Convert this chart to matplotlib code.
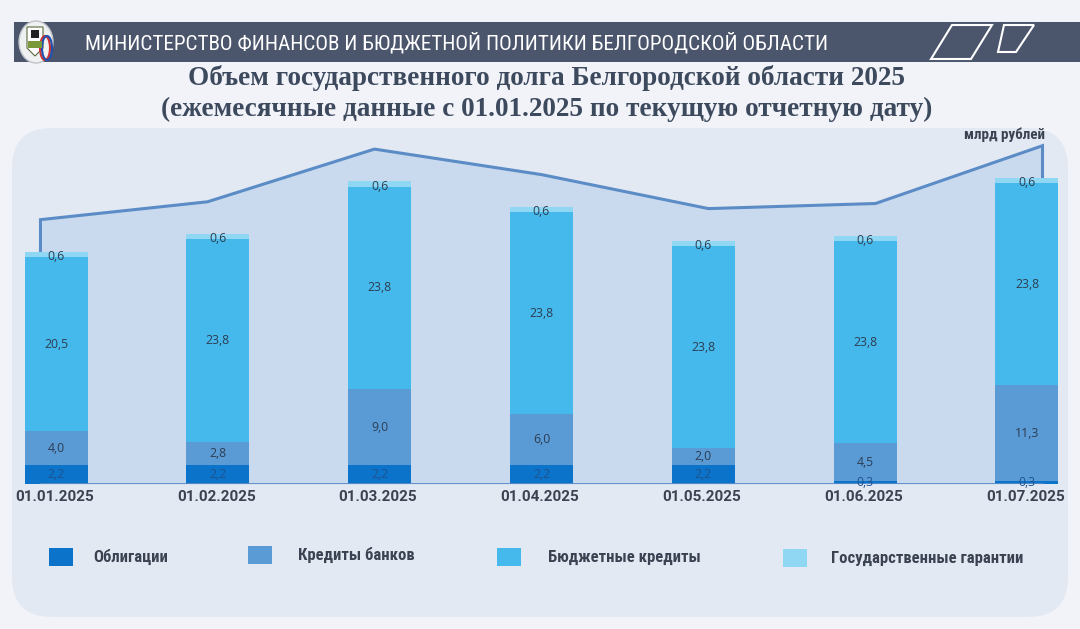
import matplotlib
matplotlib.use("Agg")
import matplotlib.pyplot as plt
from matplotlib import font_manager
from matplotlib.patches import FancyBboxPatch, Polygon, Rectangle, Ellipse
import numpy as np

# ---- data ----
dates = ["01.01.2025", "01.02.2025", "01.03.2025", "01.04.2025",
         "01.05.2025", "01.06.2025", "01.07.2025"]
series_names = ["Облигации", "Кредиты банков", "Бюджетные кредиты",
                "Государственные гарантии"]
bonds = [2.2, 2.2, 2.2, 2.2, 2.2, 0.3, 0.3]
bank_loans = [4.0, 2.8, 9.0, 6.0, 2.0, 4.5, 11.3]
budget_loans = [20.5, 23.8, 23.8, 23.8, 23.8, 23.8, 23.8]
guarantees = [0.6, 0.6, 0.6, 0.6, 0.6, 0.6, 0.6]

header_text = "МИНИСТЕРСТВО ФИНАНСОВ И БЮДЖЕТНОЙ ПОЛИТИКИ БЕЛГОРОДСКОЙ ОБЛАСТИ"
title_1 = "Объем государственного долга Белгородской области 2025"
title_2 = "(ежемесячные данные с 01.01.2025 по текущую отчетную дату)"
unit_text = "млрд рублей"

colors = ["#0b73c9", "#5b9bd5", "#45b9eb", "#8fd7f3"]

# pick a condensed font if one is installed
_fonts = font_manager.fontManager.ttflist
_names = {f.name for f in _fonts}
narrow_kw = {}
for cand in ["Liberation Sans Narrow", "Roboto Condensed", "Open Sans Condensed",
             "Noto Sans Condensed", "DejaVu Sans Condensed"]:
    if cand in _names:
        narrow_kw = {"family": [cand, "DejaVu Sans"]}
        break
if not narrow_kw:
    if any(f.name == "DejaVu Sans" and "condensed" in str(f.stretch) for f in _fonts):
        narrow_kw = {"family": ["DejaVu Sans"], "fontstretch": "condensed"}
    else:
        narrow_kw = {"family": ["Roboto", "DejaVu Sans"]}

W, H = 1080, 629
fig = plt.figure(figsize=(W / 100, H / 100), dpi=100)
fig.patch.set_facecolor("#f1f3f9")

bg = fig.add_axes([0, 0, 1, 1])
bg.set_xlim(0, W)
bg.set_ylim(H, 0)
bg.axis("off")

# header banner
bg.add_patch(Rectangle((14, 22), W - 14, 40, facecolor="#4b566d", edgecolor="none", zorder=1))
bg.add_patch(Ellipse((36, 42), 34, 42, facecolor="#eef0f2", edgecolor="#c0c4c8", zorder=2))
bg.add_patch(Polygon([(27, 27), (43, 27), (43, 48), (35, 56), (27, 48)], closed=True,
                     facecolor="#ffffff", edgecolor="#5a6a3a", lw=0.8, zorder=3))
bg.add_patch(Rectangle((28, 41), 14, 7, facecolor="#7a9a3a", edgecolor="none", zorder=4))
bg.add_patch(Rectangle((31, 30), 8, 8, facecolor="#222222", edgecolor="none", zorder=4))
bg.add_patch(Ellipse((45, 48), 10, 24, facecolor="none", edgecolor="#d03030", lw=1.5, zorder=3))
bg.add_patch(Ellipse((47, 48), 10, 24, facecolor="none", edgecolor="#2050b0", lw=1.5, zorder=3))
bg.text(85, 43, header_text, color="white", fontsize=15.2, va="center", ha="left",
        zorder=5, **narrow_kw)
bg.add_patch(Polygon([(952, 25), (992, 25), (971, 59), (931, 59)], closed=True,
                     facecolor="none", edgecolor="white", lw=1.5, zorder=5))
bg.add_patch(Polygon([(1004, 25), (1034, 25), (1016, 52), (998, 52)], closed=True,
                     facecolor="none", edgecolor="white", lw=1.5, zorder=5))

# title
bg.text(547, 78, title_1, color="#3d4a5e", fontsize=19.6, family="Liberation Serif",
        weight="bold", ha="center", va="center")
bg.text(547, 109, title_2, color="#3d4a5e", fontsize=19.6, family="Liberation Serif",
        weight="bold", ha="center", va="center")

# panel
bg.add_patch(FancyBboxPatch((12 + 40, 128 + 40), 1056 - 80, 489 - 80,
                            boxstyle="round,pad=40", facecolor="#e3e9f3",
                            edgecolor="none", zorder=1))

# legend
leg_sq_x = [49, 248, 497, 783]
leg_tx_x = [93, 298, 548, 831]
leg_y = [557, 555, 557, 558]
for i, name in enumerate(series_names):
    bg.add_patch(Rectangle((leg_sq_x[i], leg_y[i] - 9), 24, 18, facecolor=colors[i],
                           edgecolor="none", zorder=3))
    bg.text(leg_tx_x[i], leg_y[i], name, color="#3b4352", fontsize=12,
            weight="bold", ha="left", va="center", zorder=3, **narrow_kw)

# ---- data axes ----
px_per_x = 161.83
x_center0 = 56
baseline = 484
px_per_y = 8.5
top_px = 128
ax = fig.add_axes([0, (H - baseline) / H, 1, (baseline - top_px) / H])
ax.set_xlim(-x_center0 / px_per_x, (W - x_center0) / px_per_x)
ax.set_ylim(0, (baseline - top_px) / px_per_y)
ax.axis("off")
ax.patch.set_alpha(0)

x = np.arange(len(dates))
stack = np.array([bonds, bank_loans, budget_loans, guarantees])
totals = stack.sum(axis=0)

offset = 3.8
lx = 3 + (x - 3) * 1.032
ly = totals + offset
ax.fill_between(lx, 0, ly, color="#c9d9ee", zorder=1, lw=0)
ax.plot(np.r_[lx[0], lx, lx[-1]], np.r_[0, ly, 0], color="#5b8cc6", lw=2.2, zorder=2,
        solid_joinstyle="miter")

bar_w = 63 / px_per_x
bottom = np.zeros(len(dates))
for k in range(4):
    ax.bar(x, stack[k], bar_w, bottom=bottom, color=colors[k], zorder=3, lw=0)
    for i in range(len(dates)):
        v = stack[k][i]
        yc = bottom[i] + v / 2
        if k == 3:
            yc = bottom[i] + 0.05
        lbl = f"{v:.1f}".replace(".", ",")
        col = "#1f5390" if k == 0 else "#2d3d52"
        ax.text(x[i], yc, lbl, ha="center", va="center", fontsize=8.8,
                family="Open Sans", color=col, zorder=5)
    bottom = bottom + stack[k]

ax.plot([lx[0], lx[-1]], [0, 0], color="#5b8cc6", lw=2, zorder=4, solid_capstyle="butt")

for i, d in enumerate(dates):
    ax.text(x[i] - 0.01, -13 / px_per_y, d, ha="center", va="center", fontsize=11,
            family="Roboto", weight="bold", color="#3b4352", clip_on=False)

bg.text(1005, 135, unit_text, color="#3b4352", fontsize=10.8, weight="bold",
        ha="center", va="center", zorder=6, **narrow_kw)

fig.savefig("out.png", dpi=100, facecolor=fig.get_facecolor())
